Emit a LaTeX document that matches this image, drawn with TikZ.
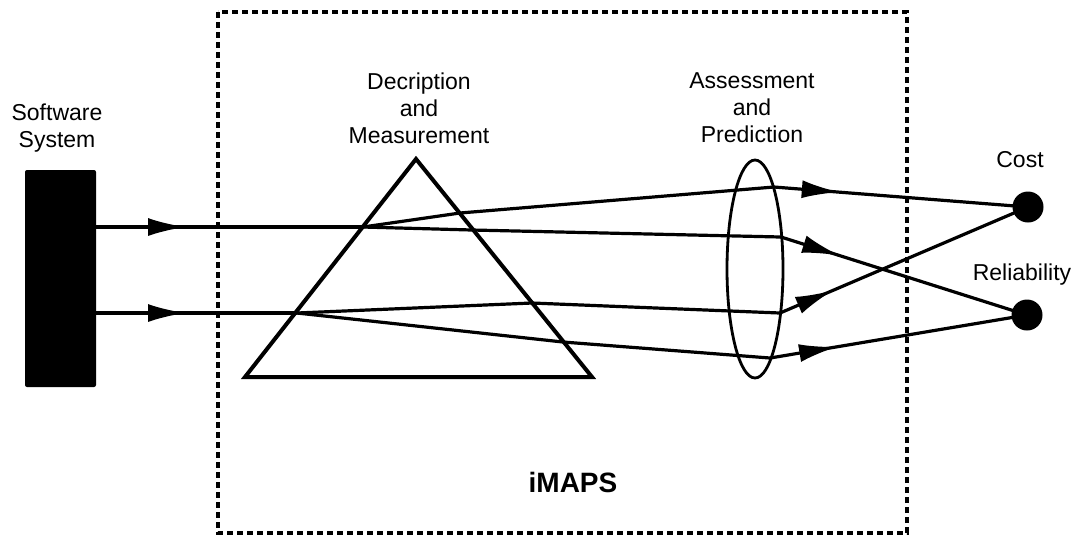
\documentclass[tikz,border=0pt]{standalone}
\usepackage{fontspec}
\setmainfont{Liberation Sans}
\usetikzlibrary{arrows.meta,decorations.markings}

\tikzset{
  label/.style={inner sep=0pt, align=center, font=\fontsize{11.5}{13.5}\selectfont},
  ray/.style={line width=1.6pt},
  rayarrow/.style={ray, postaction={decorate}, decoration={markings,
      mark=at position #1 with {\arrow{Latex[length=19pt,width=9pt]}}}},
  outcome/.style={circle, fill=black, inner sep=0pt, minimum size=15.5pt},
}

\begin{document}
\begin{tikzpicture}[x=0.5pt,y=-0.5pt]
\useasboundingbox (0,0) rectangle (1076,538);

% iMAPS frame
\draw[line width=1.6pt, dash pattern=on 3.2pt off 1.8pt] (218,12) rectangle (907,533);
\node[font=\bfseries\fontsize{14}{16}\selectfont, anchor=base, inner sep=0pt] (imaps) at (573,492) {iMAPS};

% software system
\fill[rounded corners=1pt] (25,170) rectangle (96,387);
\node[label, anchor=north] (sw) at (57,103) {Software\\System};

% prism
\draw[line width=2pt, line join=miter] (245,377) -- (416,159) -- (592,377) -- cycle;
\node[label, anchor=north] (desc) at (419,72) {Decription\\and\\Measurement};

% lens
\draw[line width=1.4pt] (755,269) ellipse [x radius=28, y radius=109];
\node[label, anchor=north] (assess) at (752,72) {Assessment\\and\\Prediction};

% outcomes
\node[outcome] (cost) at (1028,207) {};
\node[outcome] (rel) at (1027,315) {};
\node[label, anchor=base] (costlbl) at (1020,167) {Cost};
\node[label, anchor=base] (rellbl) at (1022,280) {Reliability};

% rays
\coordinate (in1) at (96,227);
\coordinate (in2) at (96,313);
\coordinate (s1) at (363,227);
\coordinate (s2) at (297,313);
\coordinate (pa) at (460,213);
\coordinate (pb) at (472,230);
\coordinate (pc) at (532,303);
\coordinate (pd) at (563,342);
\coordinate (la) at (774,187);
\coordinate (lb) at (781,237);
\coordinate (lc) at (780,313);
\coordinate (ld) at (770,358);

\draw[rayarrow=45pt] (in1) -- (s1);
\draw[rayarrow=45pt] (in2) -- (s2);

\draw[ray, line join=round] (s1) -- (pa) -- (la);
\draw[ray, line join=round] (s1) -- (pb) -- (lb);
\draw[ray, line join=round] (s2) -- (pc) -- (lc);
\draw[ray, line join=round] (s2) -- (pd) -- (ld);

\draw[rayarrow=33pt] (la) -- (cost.center);
\draw[rayarrow=31pt] (lb) -- (rel.center);
\draw[rayarrow=29pt] (lc) -- (cost.center);
\draw[rayarrow=34pt] (ld) -- (rel.center);
\end{tikzpicture}
\end{document}
